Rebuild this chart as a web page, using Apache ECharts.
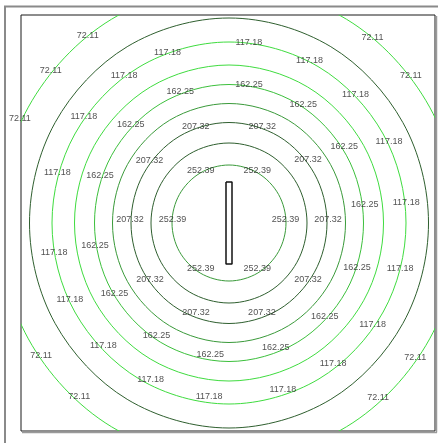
<!DOCTYPE html>
<html>
<head>
<meta charset="utf-8">
<script src="https://cdn.jsdelivr.net/npm/echarts@6/dist/echarts.min.js"></script>
<style>
  html, body { margin: 0; padding: 0; background: #fff; }
  #main { width: 438px; height: 443px; }
</style>
</head>
<body>
<div id="main"></div>
<script>
// contour levels, outer to inner
const levels = [72.11, 94.65, 117.18, 139.72, 162.25, 184.79, 207.32, 229.86, 252.39];
const lineColors = ["#3fdc3f", "#2f5f2f", "#3fdc3f", "#3fdc3f", "#3cc03c", "#3a9a3a", "#2f5f2f", "#2f5f2f", "#3a9a3a"];

// radius of each contour read at these angles (deg, counter-clockwise from east)
const ringAngles = [0, 30, 60, 90, 120, 150, 180, 210, 240, 270, 300, 330];
const ring72  = [230, 231.7, 235.2, 237, 235.2, 231.7, 230, 231.7, 235.2, 237, 235.2, 231.7];
const ring95  = [199.5, 200.8, 203.6, 205, 203.6, 200.8, 199.5, 200.8, 203.6, 205, 203.6, 200.8];
const ring117 = [177, 178, 180, 181, 180, 178, 177, 178, 180, 181, 180, 178];
const ring140 = [154.5, 155.4, 157.1, 158, 157.1, 155.4, 154.5, 155.4, 157.1, 158, 157.1, 155.4];
const ring162 = [134.5, 135.5, 137.5, 138.5, 137.5, 135.5, 134.5, 135.5, 137.5, 138.5, 137.5, 135.5];
const ring185 = [116.5, 117.2, 118.7, 119.5, 118.7, 117.2, 116.5, 117.2, 118.7, 119.5, 118.7, 117.2];
const ring207 = [98, 98.6, 99.9, 100.5, 99.9, 98.6, 98, 98.6, 99.9, 100.5, 99.9, 98.6];
const ring230 = [78, 78.5, 79.5, 80, 79.5, 78.5, 78, 78.5, 79.5, 80, 79.5, 78.5];
const ring252 = [57, 57.2, 57.7, 58, 57.7, 57.2, 57, 57.2, 57.7, 58, 57.7, 57.2];
const rings = [ring72, ring95, ring117, ring140, ring162, ring185, ring207, ring230, ring252];

// contour labels: angle of each label along its line, and its distance from centre
const labelLevels = [72.11, 117.18, 162.25, 207.32, 252.39];
const labelRadius = [232, 178, 136.5, 99, 56.5];
const labelAngles = [
  [38.4, 51.8, 127.5, 140.2, 154.3, 215.9, 229.8, 310, 323.4],
  [5.4, 26, 44.7, 63.1, 83.6, 110.2, 126.1, 144.6, 164.6, 190.7, 206.6, 225.1, 243.9, 263.6, 287.6, 305.8, 323.8, 344],
  [6.1, 32.4, 57.1, 81.6, 110.9, 136, 161, 191, 213, 237.9, 262.1, 290, 314.6, 339.6],
  [0, 37, 70.4, 109.6, 143.5, 180, 217, 250.6, 289.4, 323],
  [0, 60, 120, 180, 240, 300]
];

// the source rectangle in the middle
const sourceX = [-3, 3];
const sourceY = [-41, 41];

const rad = d => d * Math.PI / 180;

// closed outline of each contour in data units
const ringPoints = rings.map(ring =>
  ring.map((r, j) => [r * Math.cos(rad(ringAngles[j])), r * Math.sin(rad(ringAngles[j]))])
);

const labelData = [];
labelLevels.forEach((lv, k) => {
  labelAngles[k].forEach(a => {
    labelData.push([labelRadius[k] * Math.cos(rad(a)), labelRadius[k] * Math.sin(rad(a)), lv]);
  });
});

const myChart = echarts.init(document.getElementById("main"));
myChart.setOption({
  backgroundColor: "#ffffff",
  animation: false,
  grid: {
    left: 21,
    top: 15,
    width: 414,
    height: 416,
    show: true,
    borderColor: "#1a1a1a",
    borderWidth: 1,
    backgroundColor: "transparent"
  },
  xAxis: { type: "value", min: -208, max: 206, show: false },
  yAxis: { type: "value", min: -208, max: 208, show: false },
  series: [
    {
      type: "custom",
      clip: true,
      silent: true,
      z: 2,
      data: levels.map((lv, k) => [0, 0, k]),
      renderItem: function (params, api) {
        const k = api.value(2);
        return {
          type: "polygon",
          shape: { points: ringPoints[k].map(p => api.coord(p)), smooth: 0.34 },
          style: { fill: "none", stroke: lineColors[k], lineWidth: 1 }
        };
      }
    },
    {
      type: "line",
      data: [
        [sourceX[0], sourceY[1]], [sourceX[1], sourceY[1]],
        [sourceX[1], sourceY[0]], [sourceX[0], sourceY[0]], [sourceX[0], sourceY[1]]
      ],
      symbol: "none",
      silent: true,
      lineStyle: { color: "#111", width: 1.5 },
      z: 3
    },
    {
      type: "scatter",
      data: labelData,
      symbolSize: 0,
      clip: false,
      silent: true,
      z: 5,
      label: {
        show: true,
        position: "inside",
        offset: [0, -3.5],
        formatter: p => p.value[2].toFixed(2),
        color: "#262626",
        fontSize: 9,
        fontFamily: "Liberation Sans Narrow, Liberation Sans, Arial, sans-serif"
      }
    }
  ],
  graphic: [
    { type: "line", shape: { x1: 5, y1: 6.5, x2: 5, y2: 443 }, style: { stroke: "#8a8a8a", lineWidth: 2 } },
    { type: "line", shape: { x1: 4, y1: 6.5, x2: 438, y2: 6.5 }, style: { stroke: "#8a8a8a", lineWidth: 2 } },
    { type: "line", shape: { x1: 436.5, y1: 16, x2: 436.5, y2: 432.5 }, style: { stroke: "#9a9a9a", lineWidth: 1.5 } },
    { type: "line", shape: { x1: 22, y1: 432.5, x2: 437, y2: 432.5 }, style: { stroke: "#9a9a9a", lineWidth: 1.5 } }
  ]
});
window.onresize = function () {
  myChart.resize();
};
</script>
</body>
</html>
